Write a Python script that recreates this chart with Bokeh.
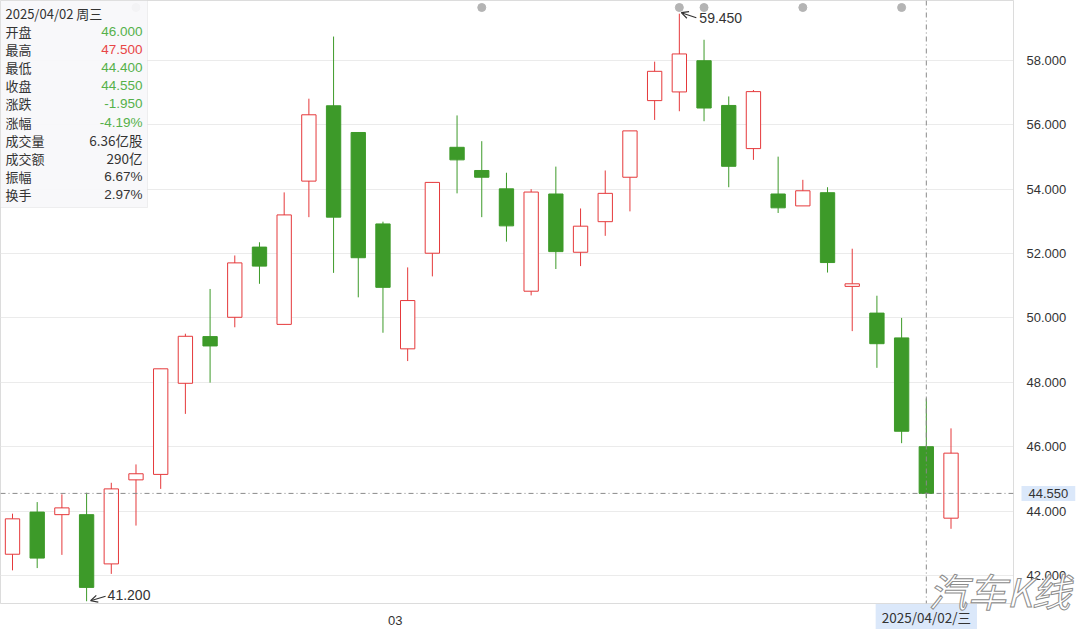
from bokeh.plotting import figure
from bokeh.models import (ColumnDataSource, Span, Label, BoxAnnotation, Arrow, OpenHead,
                          FixedTicker, PrintfTickFormatter)
from bokeh.embed import file_html
from bokeh.resources import INLINE

# ---------------- data ----------------
open_ = [42.66, 43.97, 43.89, 43.89, 42.36, 44.97, 45.14, 47.97, 49.42, 50.02, 52.20, 49.80, 54.25,
         56.59, 55.76, 52.92, 49.04, 52.01, 55.30, 54.58, 54.01, 50.83, 53.85, 52.04, 52.99, 54.37,
         56.75, 57.02, 57.99, 56.60, 55.26, 53.85, 53.48, 53.89, 50.98, 50.15, 49.38, 46.00, 43.78]
high = [43.92, 44.28, 44.52, 44.57, 44.88, 45.45, 48.42, 49.51, 50.90, 51.94, 52.35, 53.90, 56.81,
        58.74, 55.76, 52.99, 51.57, 54.21, 56.29, 55.49, 54.51, 54.00, 54.70, 53.40, 54.58, 55.81,
        57.96, 59.45, 58.64, 56.88, 57.08, 55.01, 54.29, 54.06, 52.15, 50.69, 50.00, 47.50, 46.57]
low = [42.16, 42.23, 42.64, 41.20, 42.05, 43.55, 44.69, 47.02, 47.99, 49.71, 51.06, 49.80, 53.13,
       51.40, 50.64, 49.54, 48.66, 51.29, 53.87, 53.13, 52.37, 50.70, 51.52, 51.61, 52.55, 53.31,
       56.15, 56.42, 56.11, 54.06, 54.91, 53.26, 53.48, 51.41, 49.59, 48.45, 46.11, 44.40, 43.45]
close = [43.76, 42.54, 44.10, 41.63, 44.69, 45.16, 48.42, 49.43, 49.13, 51.71, 51.61, 53.20, 56.31,
         53.13, 51.87, 50.95, 50.54, 54.21, 54.91, 54.37, 52.86, 53.91, 52.06, 52.85, 53.87, 55.81,
         57.66, 58.20, 56.52, 54.71, 57.03, 53.42, 53.95, 51.72, 51.06, 49.20, 46.48, 44.55, 45.80]

event_idx = [5, 19, 27, 28, 32, 36]
selected_idx = 37
selected_date = "2025/04/02/三"
month_ticks = {15.5: "03"}
y_ticks = [42, 44, 46, 48, 50, 52, 54, 56, 58]

info_header = "2025/04/02 周三"
info_labels = ["开盘", "最高", "最低", "收盘", "涨跌", "涨幅", "成交量", "成交额", "振幅", "换手"]
info_values = ["46.000", "47.500", "44.400", "44.550", "-1.950", "-4.19%", "6.36亿股", "290亿", "6.67%", "2.97%"]
info_kinds = ["down", "up", "down", "down", "down", "down", "plain", "plain", "plain", "plain"]

watermark = "汽车K线"

# ---------------- style / layout ----------------
RED = "#e5393b"
GREEN = "#3d9a29"
INFO_GREEN = "#55b14a"
INFO_RED = "#e84646"
TXT = "#333333"
CJK = "Noto Sans CJK SC"
LAT = "Liberation Sans"

W, H = 1080, 629          # whole canvas
FW, FH = 1013, 603        # plot frame
X0, X1 = -0.486, 40.53
Y0, Y1 = 41.13, 59.86
PXX = FW / (X1 - X0)      # pixels per x unit
PXY = FH / (Y1 - Y0)      # pixels per y unit


def dx(px):
    return X0 + px / PXX


def dy(py):
    return Y1 - py / PXY


n = len(open_)
xs = list(range(n))
up = [c >= o for o, c in zip(open_, close)]
src = ColumnDataSource(dict(
    x=xs, open=open_, high=high, low=low, close=close,
    top=[max(o, c) for o, c in zip(open_, close)],
    bottom=[min(o, c) for o, c in zip(open_, close)],
    color=[RED if u else GREEN for u in up],
    fill=["#ffffff" if u else GREEN for u in up],
))

p = figure(frame_width=FW, frame_height=FH, x_range=(X0, X1), y_range=(Y0, Y1),
           y_axis_location="right", output_backend="svg", toolbar_location=None,
           min_border_left=0, min_border_top=0, min_border_right=W - FW,
           min_border_bottom=H - FH)
p.outline_line_color = "#dcdcdc"
p.background_fill_color = "#ffffff"
p.border_fill_color = "#ffffff"

p.xgrid.grid_line_color = None
p.ygrid.grid_line_color = "#ebebeb"
p.ygrid.ticker = FixedTicker(ticks=y_ticks)

p.yaxis.ticker = FixedTicker(ticks=y_ticks, minor_ticks=[])
p.yaxis.formatter = PrintfTickFormatter(format="%.3f")
p.yaxis.major_tick_line_color = None
p.yaxis.minor_tick_line_color = None
p.yaxis.axis_line_color = "#dcdcdc"
p.yaxis.major_label_text_font = LAT
p.yaxis.major_label_text_font_size = "13px"
p.yaxis.major_label_text_color = TXT
p.yaxis.major_label_standoff = 7

p.xaxis.ticker = FixedTicker(ticks=list(month_ticks.keys()), minor_ticks=[])
p.xaxis.major_label_overrides = month_ticks
p.xaxis.major_tick_line_color = None
p.xaxis.minor_tick_line_color = None
p.xaxis.axis_line_color = "#dcdcdc"
p.xaxis.major_label_text_font = LAT
p.xaxis.major_label_text_font_size = "13px"
p.xaxis.major_label_text_color = TXT
p.xaxis.major_label_standoff = 6

# event dots at top
p.scatter(x=event_idx, y=[dy(7)] * len(event_idx), size=8, color="#b4b4b4")

# candles
p.segment(x0="x", y0="low", x1="x", y1="high", line_color="color", line_width=1, source=src)
p.vbar(x="x", width=0.58, top="top", bottom="bottom", fill_color="fill",
       line_color="color", line_width=1, source=src)

# crosshair lines
last_close = close[selected_idx]
p.add_layout(Span(location=last_close, dimension="width", line_color="#8a8a8a",
                  line_dash="5 3 1 3", line_width=1))
p.add_layout(Span(location=selected_idx, dimension="height", line_color="#8a8a8a",
                  line_dash="5 3 1 3", line_width=1))

# max / min annotations
imax = max(range(n), key=lambda i: high[i])
imin = min(range(n), key=lambda i: low[i])
p.add_layout(Arrow(end=OpenHead(size=7, line_color=TXT, line_width=1.2),
                   x_start=imax + 17 / PXX, y_start=high[imax] - 4 / PXY,
                   x_end=imax + 2 / PXX, y_end=high[imax] + 1 / PXY,
                   line_color=TXT, line_width=1.2))
p.add_layout(Label(x=imax + 20 / PXX, y=high[imax] - 4 / PXY, text=f"{high[imax]:.3f}",
                   text_font=LAT, text_font_size="14px", text_color=TXT,
                   text_align="left", text_baseline="middle"))
p.add_layout(Arrow(end=OpenHead(size=7, line_color=TXT, line_width=1.2),
                   x_start=imin + 19 / PXX, y_start=low[imin] + 5 / PXY,
                   x_end=imin + 4 / PXX, y_end=low[imin] + 0.5 / PXY,
                   line_color=TXT, line_width=1.2))
p.add_layout(Label(x=imin + 21 / PXX, y=low[imin] + 6 / PXY, text=f"{low[imin]:.3f}",
                   text_font=LAT, text_font_size="14px", text_color=TXT,
                   text_align="left", text_baseline="middle"))

# info box
p.add_layout(BoxAnnotation(left=X0, right=dx(147), top=Y1, bottom=dy(207),
                           fill_color="#f7f8fa", fill_alpha=0.93,
                           line_color="#cfcfcf", line_width=1))
p.add_layout(Label(x=dx(5), y=dy(12.5), text=info_header, text_font=CJK,
                   text_font_size="13px", text_color=TXT,
                   text_align="left", text_baseline="middle"))
kind_color = {"up": INFO_RED, "down": INFO_GREEN, "plain": TXT}
for k, (lab, val, kind) in enumerate(zip(info_labels, info_values, info_kinds)):
    yy = dy(30.7 + 18.18 * k)
    p.add_layout(Label(x=dx(5), y=yy, text=lab, text_font=CJK, text_font_size="13px",
                       text_color=TXT, text_align="left", text_baseline="middle"))
    font = CJK if any(ord(ch) > 127 for ch in val) else LAT
    p.add_layout(Label(x=dx(142), y=yy, text=val, text_font=font, text_font_size="13.5px",
                       text_color=kind_color[kind], text_align="right", text_baseline="middle"))

# ---------- transparent overlay figure (same data mapping, frame = whole canvas) ----------
ov = figure(width=W, height=H,
            x_range=(X0, X0 + W / PXX),
            y_range=(Y1 - H / PXY, Y1),
            x_axis_location=None, y_axis_location=None,
            output_backend="svg", toolbar_location=None,
            min_border_left=0, min_border_right=0, min_border_top=0, min_border_bottom=0,
            styles={"position": "absolute", "top": "0px", "left": "0px"})
ov.outline_line_color = None
ov.background_fill_alpha = 0
ov.border_fill_alpha = 0
ov.grid.visible = False

# last price tag on the price axis
ov.add_layout(Label(x=X1, y=last_close, x_offset=8, text=f"{last_close:.3f}", text_font=LAT,
                    text_font_size="13px", text_color=TXT, text_align="left",
                    text_baseline="middle", background_fill_color="#dbe8fa",
                    padding=(7, 3)))

# selected date tag on the time axis
ov.add_layout(Label(x=selected_idx, y=Y0 - 13.5 / PXY, text=selected_date, text_font=CJK,
                    text_font_size="13.5px", text_color=TXT, text_align="center",
                    text_baseline="middle", background_fill_color="#dbe8fa", padding=(6, 3)))

# watermark
ov.add_layout(Label(x=dx(999), y=dy(589), text=watermark, text_font=CJK,
                    text_font_size="39px", text_font_style="italic", text_color="#ffffff",
                    text_outline_color="#8c8c8c",
                    text_align="center", text_baseline="middle"))

open("out.html", "w").write(file_html([p, ov], INLINE))
